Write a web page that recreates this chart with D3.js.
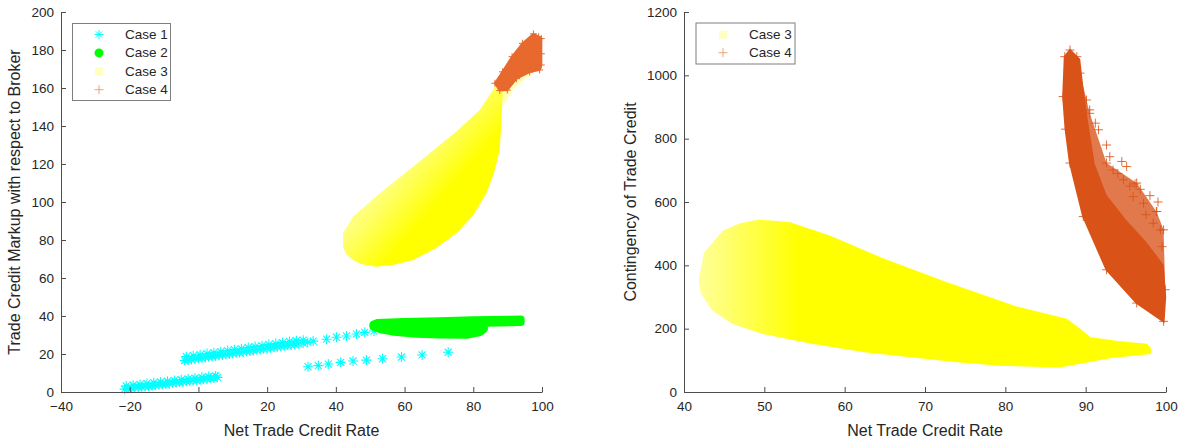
<!DOCTYPE html>
<html><head><meta charset="utf-8">
<script src="https://cdn.jsdelivr.net/npm/d3@7"></script>
<style>body{margin:0;background:#fff;} text{font-family:"Liberation Sans",Arial,sans-serif;fill:#262626;}</style>
</head><body><svg id="c" width="1185" height="441"></svg>
<script>
// ---------- tick labels ----------
const leftXTicks = [-40,-20,0,20,40,60,80,100];
const leftYTicks = [0,20,40,60,80,100,120,140,160,180,200];
const rightXTicks = [40,50,60,70,80,90,100];
const rightYTicks = [0,200,400,600,800,1000,1200];
const legendLeft = ["Case 1","Case 2","Case 3","Case 4"];
const legendRight = ["Case 3","Case 4"];
const xLabel = "Net Trade Credit Rate";
const yLabelLeft = "Trade Credit Markup with respect to Broker";
const yLabelRight = "Contingency of Trade Credit";

// ---------- left panel data (Net rate, Markup) ----------
const case1BandA = [[-21.5,1.5],[-20.5,1.8],[-19.5,2.0],[-18.5,2.2],[-17.5,2.4],[-16.5,2.7],[-15.5,2.9],[-14.5,3.1],[-13.5,3.3],[-12.5,3.5],[-11.5,3.8],[-10.5,4.0],[-9.5,4.2],[-8.5,4.4],[-7.5,4.7],[-6.5,4.9],[-5.5,5.1],[-4.5,5.3],[-3.5,5.6],[-2.5,5.8],[-1.5,6.0],[-0.5,6.2],[0.5,6.5],[1.5,6.7],[2.5,6.9],[3.5,7.2],[4.5,7.4],[5.5,7.7],
  [-21,3.2],[-19,3.6],[-17,4.0],[-15,4.5],[-13,4.9],[-11,5.3],[-9,5.7],[-7,6.1],[-5,6.5],[-3,6.9],[-1,7.3],[1,7.7],[3,8.1],[5,8.4]];
const case1BandB = [[-4,16.6],[-3,16.9],[-2,17.1],[-1,17.4],[0,17.7],[1,17.9],[2,18.2],[3,18.5],[4,18.7],[5,19.0],[6,19.3],[7,19.5],[8,19.8],[9,20.0],[10,20.3],[11,20.6],[12,20.8],[13,21.1],[14,21.4],[15,21.6],[16,21.9],[17,22.2],[18,22.4],[19,22.7],[20,23.0],[21,23.2],[22,23.5],[23,23.8],[24,24.0],[25,24.3],[26,24.6],[27,24.8],[28,25.1],[29.2,25.4],[30.5,25.8],[31.8,26.1],
  [-3.5,18.6],[-1.5,19.1],[0.5,19.6],[2.5,20.2],[4.5,20.7],[6.5,21.2],[8.5,21.8],[10.5,22.3],[12.5,22.8],[14.5,23.4],[16.5,23.9],[18.5,24.4],[20.5,25.0],[22.5,25.5],[24.5,26.0],[26.5,26.6],[28.5,27.0],[30.5,27.3]];
const case1Tail = [[33.4,26.8],[37.3,27.8],[40.2,28.8],[43.1,29.5],[46.0,30.5],[48.4,31.4],[51.1,32.1]];
const case1Sparse = [[31.9,13.3],[34.9,13.9],[37.8,14.7],[41.4,15.6],[45.0,16.3],[48.9,16.8],[53.6,17.5],[59.1,18.4],[65.1,19.5],[72.7,20.9]];
const case2Outline = [[50.9,35.4],[52,36.3],[60,36.9],[70,37.3],[80,37.7],[90,38.0],[93.8,38.1],[93.8,36.8],[88,36.6],[83.1,36.4],[83.1,33.2],[82,31.6],[78,30.1],[70,30.2],[63.5,30.7],[57,31.7],[52.8,33.1],[50.9,34.5]];
const case3LeftOutline = [[42.1,76.5],[42.1,83.5],[45.0,92.3],[52.8,104.6],[60,115],[67.3,125.6],[75,137],[81.9,148.4],[86.7,161.6],[88.7,159.8],[88.2,143.2],[87.7,127.4],[86,115],[83.8,104.6],[80,93],[75.1,83.5],[69,75.5],[62.5,69.5],[57,67],[51.8,65.9],[47.5,67.2],[45.0,69.5],[43,72.5]];
const case3LeftFaint = [[88.6,150],[88.8,160.5],[97,168.5],[99.2,172.5],[99.2,170.5],[92,160]];
const case4LeftOutline = [[86.3,162.5],[88.5,168.5],[91.3,176.5],[94.3,183.5],[97.5,188.5],[99.0,187.0],[99.8,186.0],[99.8,178],[99.8,172.1],[99.3,169.5],[96.4,168.4],[92.6,164.9],[89.9,158.9],[87.7,158.7]];

// ---------- right panel data (Net rate, Contingency) ----------
const case3RightOutline = [[41.96,354],[42.6,438.6],[44.9,506.8],[47,530],[49.4,541.5],[53.2,533.3],[58.1,491],[64.4,422.9],[72.7,344],[81.0,270],[87.6,228.1],[89.3,196.6],[90.5,170.4],[94,158],[97.6,149],[98.0,136],[98.0,123],[93,110],[86.8,80.8],[79.3,86.1],[74,97],[68.5,112.3],[62.7,128.1],[56.1,154.6],[49.8,186.2],[46.1,217.8],[43.6,259.7],[42.2,312.4]];
const case4RightOuter = [[88.05,1080],[87.4,1059],[87.2,933],[87.5,830],[88.05,723],[89.7,554],[92.6,386],[96.35,281],[99.7,223],[99.9,323],[99.7,512],[98.8,570],[96.35,660],[92.6,723],[90.5,880],[89.3,1007],[88.9,1059]];
const case4RightDense = [[88.05,1080],[87.4,1059],[87.2,933],[87.5,830],[88.05,723],[89.7,554],[92.6,386],[96.35,281],[99.7,223],[99.9,300],[99.6,400],[97.5,470],[95,540],[92.5,620],[91,720],[90.2,850],[89.6,960],[89.2,1050]];
const case4RightSparse = [[96.14,657],[98.85,570],[97.2,596],[95.1,712],[94.5,728],[93.0,743],[92.6,780],[91.6,828],[91.2,849],[90.5,891],[90.1,922],[99.3,512],[99.5,459],[98.4,533],[95.9,617],[94.7,670],[93.4,701],[97.5,560],[96.8,640],[98,620],[99,600],[94,690],[95.5,650]];

// ---------- setup ----------
const svg = d3.select("#c");
const defs = svg.append("defs");
const LX = d3.scaleLinear().domain([-40,100]).range([61,542]);
const LY = d3.scaleLinear().domain([0,200]).range([392,12]);
const RX = d3.scaleLinear().domain([40,100]).range([684,1166]);
const RY = d3.scaleLinear().domain([0,1200]).range([392,12]);

const starPath = r => { const a=r*0.707; return `M${-r},0L${r},0M0,${-r}L0,${r}M${-a},${-a}L${a},${a}M${-a},${a}L${a},${-a}`; };
const plusPath = r => `M${-r},0L${r},0M0,${-r}L0,${r}`;

function grad(id, x2, y2, stops){
  const g = defs.append("linearGradient").attr("id",id).attr("x1",0).attr("y1",0).attr("x2",x2).attr("y2",y2);
  stops.forEach(s=>g.append("stop").attr("offset",s[0]).attr("stop-color",s[1]));
}
grad("yl",1,1,[[0,"#ffffb8"],[0.42,"#ffff7a"],[0.62,"#ffff00"],[1,"#ffff00"]]);
grad("yr",1,0,[[0,"#ffff9a"],[0.1,"#ffff55"],[0.22,"#ffff00"],[1,"#ffff00"]]);

function axes(g, x, y, xt, yt){
  g.append("g").attr("transform",`translate(0,${y.range()[0]})`)
    .call(d3.axisBottom(x).tickValues(xt).tickFormat(d3.format("d")).tickSizeInner(-5).tickSizeOuter(0).tickPadding(9))
    .call(a=>{a.selectAll("text").style("font-size","13.5px").attr("fill","#262626");a.selectAll("line,path").attr("stroke","#4d4d4d");});
  g.append("g").attr("transform",`translate(${x.range()[0]},0)`)
    .call(d3.axisLeft(y).tickValues(yt).tickFormat(d3.format("d")).tickSizeInner(-5).tickSizeOuter(0).tickPadding(7))
    .call(a=>{a.selectAll("text").style("font-size","13.5px").attr("fill","#262626");a.selectAll("line,path").attr("stroke","#4d4d4d");});
}
const line = (x,y) => d3.line().x(d=>x(d[0])).y(d=>y(d[1])).curve(d3.curveLinearClosed);

// ---------- left panel ----------
const gl = svg.append("g");
const c1 = gl.append("g").attr("stroke","#00ffff").attr("stroke-width",1.1).attr("fill","none");
[case1BandA, case1BandB, case1Tail, case1Sparse].forEach(arr=>{
  c1.selectAll(null).data(arr).enter().append("path")
    .attr("d",starPath(5)).attr("transform",d=>`translate(${LX(d[0])},${LY(d[1])})`);
});
gl.append("path").datum(case2Outline).attr("d",line(LX,LY))
  .attr("fill","#00ff00").attr("stroke","#00ff00").attr("stroke-width",8).attr("stroke-linejoin","round");
gl.append("path").datum(case3LeftFaint).attr("d",line(LX,LY)).attr("fill","#ffff00").attr("opacity",0.28);
gl.append("path").datum(case3LeftOutline).attr("d",line(LX,LY)).attr("fill","url(#yl)");
gl.append("path").datum(case4LeftOutline).attr("d",line(LX,LY)).attr("fill","#e8692d").attr("stroke","#e8692d").attr("stroke-width",2);
gl.selectAll(null).data(case4LeftOutline).enter().append("path").attr("d",plusPath(3.5))
  .attr("transform",d=>`translate(${LX(d[0])},${LY(d[1])})`).attr("stroke","#e8692d").attr("fill","none");
axes(gl, LX, LY, leftXTicks, leftYTicks);
gl.append("text").attr("x",(61+542)/2).attr("y",436).attr("text-anchor","middle").style("font-size","16px").text(xLabel);
gl.append("text").attr("transform",`translate(20,${(12+392)/2}) rotate(-90)`).attr("text-anchor","middle").style("font-size","16px").text(yLabelLeft);

// legend left
const lg = gl.append("g");
lg.append("rect").attr("x",72.5).attr("y",23.5).attr("width",98).attr("height",77).attr("fill","#fff").attr("stroke","#7f7f7f").attr("stroke-width",1);
const lgY = d3.scalePoint().domain(legendLeft).range([34.5,89.7]);
lg.selectAll("text").data(legendLeft).enter().append("text").attr("x",125).attr("y",d=>lgY(d)+4.5).style("font-size","13.5px").text(d=>d);
lg.append("path").attr("d",starPath(4.5)).attr("transform",`translate(99,${lgY("Case 1")})`).attr("stroke","#00ffff").attr("fill","none");
lg.append("circle").attr("cx",99).attr("cy",lgY("Case 2")).attr("r",4.5).attr("fill","#00ff00");
lg.append("rect").attr("x",95).attr("y",lgY("Case 3")-4).attr("width",8).attr("height",8).attr("fill","#ffffc4");
lg.append("path").attr("d",plusPath(4.5)).attr("transform",`translate(99,${lgY("Case 4")})`).attr("stroke","#f0a27e").attr("fill","none");

// ---------- right panel ----------
const gr = svg.append("g");
gr.append("path").datum(case3RightOutline).attr("d",line(RX,RY)).attr("fill","url(#yr)").attr("stroke","url(#yr)").attr("stroke-width",2);
gr.append("path").datum(case4RightOuter).attr("d",line(RX,RY)).attr("fill","#d95319").attr("opacity",0.78);
gr.append("path").datum(case4RightDense).attr("d",line(RX,RY)).attr("fill","#d95319").attr("stroke","#d95319").attr("stroke-width",2);
gr.selectAll(null).data(case4RightSparse.concat(case4RightOuter)).enter().append("path").attr("d",plusPath(4.5))
  .attr("transform",d=>`translate(${RX(d[0])},${RY(d[1])})`).attr("stroke","#d95319").attr("fill","none").attr("opacity",0.85);
axes(gr, RX, RY, rightXTicks, rightYTicks);
gr.append("text").attr("x",(684+1166)/2).attr("y",436).attr("text-anchor","middle").style("font-size","16px").text(xLabel);
gr.append("text").attr("transform",`translate(636,${(12+392)/2}) rotate(-90)`).attr("text-anchor","middle").style("font-size","16px").text(yLabelRight);

const rg = gr.append("g");
rg.append("rect").attr("x",696).attr("y",23).attr("width",99).attr("height",41).attr("fill","#fff").attr("stroke","#7f7f7f").attr("stroke-width",1);
const rgY = d3.scalePoint().domain(legendRight).range([34.7,52.7]);
rg.selectAll("text").data(legendRight).enter().append("text").attr("x",749).attr("y",d=>rgY(d)+4.5).style("font-size","13.5px").text(d=>d);
rg.append("rect").attr("x",719).attr("y",rgY("Case 3")-4).attr("width",8).attr("height",8).attr("fill","#ffffc4");
rg.append("path").attr("d",plusPath(4.5)).attr("transform",`translate(723,${rgY("Case 4")})`).attr("stroke","#f0a27e").attr("fill","none");
</script></body></html>
